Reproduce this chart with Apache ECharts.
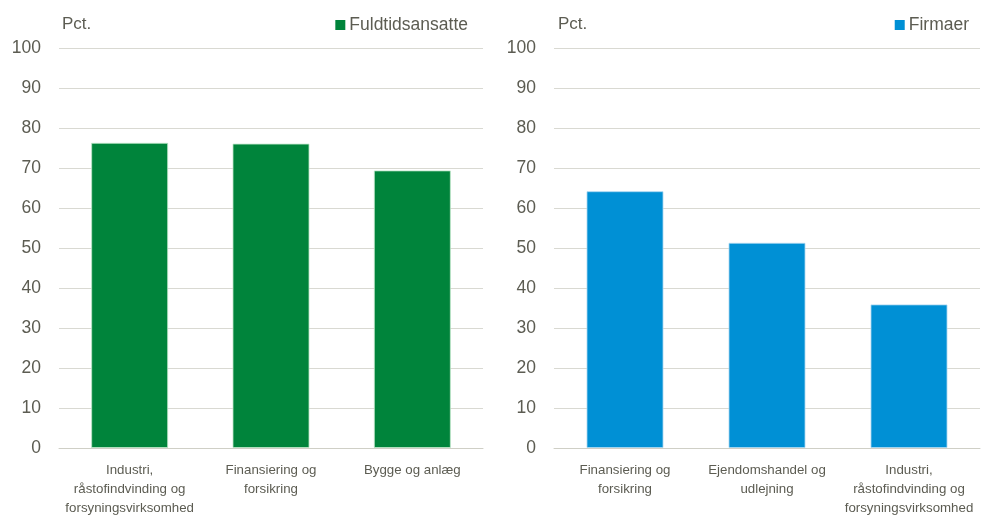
<!DOCTYPE html>
<html>
<head>
<meta charset="utf-8">
<script src="https://cdn.jsdelivr.net/npm/echarts@6/dist/echarts.min.js"></script>
<style>
html,body{margin:0;padding:0;background:#fff;}
#chart{width:982px;height:518px;}
</style>
</head>
<body>
<div id="chart"></div>
<script>
const leftCategories = ['Industri,\nråstofindvinding og\nforsyningsvirksomhed', 'Finansiering og\nforsikring', 'Bygge og anlæg'];
const leftValues = [76.3, 76.1, 69.4];
const leftName = 'Fuldtidsansatte';
const rightCategories = ['Finansiering og\nforsikring', 'Ejendomshandel og\nudlejning', 'Industri,\nråstofindvinding og\nforsyningsvirksomhed'];
const rightValues = [64.2, 51.3, 35.9];
const rightName = 'Firmaer';
const yUnit = 'Pct.';

const textColor = '#5c5c52';
const gridColor = '#d9d9d2';
const font = "'Liberation Sans', Arial, sans-serif";

const chart = echarts.init(document.getElementById('chart'));

function xAxis(idx, cats) {
  return {
    type: 'category', gridIndex: idx, data: cats,
    axisLine: { show: true, lineStyle: { color: '#cfcfc6', width: 1 } },
    axisTick: { show: false },
    axisLabel: { color: textColor, fontSize: 13.3, fontFamily: font, lineHeight: 19, margin: 13, interval: 0 }
  };
}
function yAxis(idx) {
  return {
    type: 'value', gridIndex: idx, min: 0, max: 100, interval: 10,
    axisLine: { show: false }, axisTick: { show: false },
    axisLabel: { color: textColor, fontSize: 17.5, fontFamily: font, margin: 18 },
    splitLine: { lineStyle: { color: gridColor, width: 1 } }
  };
}

chart.setOption({
  animation: false,
  backgroundColor: '#fff',
  title: [
    { text: yUnit, left: 57, top: 11, textStyle: { color: textColor, fontSize: 17, fontWeight: 'normal', fontFamily: font } },
    { text: yUnit, left: 553, top: 11, textStyle: { color: textColor, fontSize: 17, fontWeight: 'normal', fontFamily: font } }
  ],
  legend: [
    { data: [leftName], right: 509, top: 11, icon: 'rect', itemWidth: 10, itemHeight: 10, itemGap: 5,
      itemStyle: { borderWidth: 0 },
      textStyle: { color: textColor, fontSize: 17.5, fontFamily: font, padding: [0,0,0,-1] } },
    { data: [rightName], right: 8, top: 11, icon: 'rect', itemWidth: 10, itemHeight: 10, itemGap: 5,
      itemStyle: { borderWidth: 0 },
      textStyle: { color: textColor, fontSize: 17.5, fontFamily: font, padding: [0,0,0,-1] } }
  ],
  grid: [
    { left: 59, right: 499, top: 48, bottom: 65 },
    { left: 554, right: 2, top: 48, bottom: 65 }
  ],
  xAxis: [xAxis(0, leftCategories), xAxis(1, rightCategories)],
  yAxis: [yAxis(0), yAxis(1)],
  series: [
    { name: leftName, type: 'bar', xAxisIndex: 0, yAxisIndex: 0, data: leftValues, barWidth: 77,
      itemStyle: { color: '#00843b', borderColor: 'rgba(190,230,200,0.8)', borderWidth: 1 } },
    { name: rightName, type: 'bar', xAxisIndex: 1, yAxisIndex: 1, data: rightValues, barWidth: 77,
      itemStyle: { color: '#0090d5', borderColor: 'rgba(170,215,240,0.8)', borderWidth: 1 } }
  ]
});
</script>
</body>
</html>
